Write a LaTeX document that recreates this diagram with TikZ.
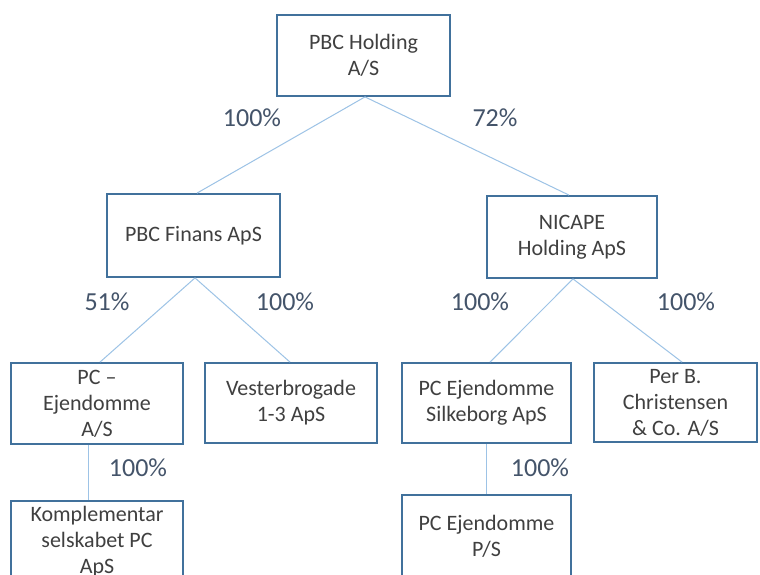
\documentclass[tikz,border=0pt]{standalone}
\usepackage{fontspec}
\setmainfont{Carlito}
\usetikzlibrary{calc}
\definecolor{boxline}{HTML}{41719C}
\definecolor{conn}{HTML}{9DC3E6}
\definecolor{boxtext}{HTML}{404040}
\definecolor{pct}{HTML}{44546A}
\begin{document}
\begin{tikzpicture}[x=1pt,y=-1pt,
  company/.style={draw=boxline, line width=1.8pt, fill=white, rectangle,
    inner sep=0pt, align=center, text=boxtext,
    font=\fontsize{22}{26}\selectfont},
  link/.style={draw=conn, line width=1pt},
  share/.style={text=pct, font=\fontsize{26}{30}\selectfont, inner sep=0pt}]
\useasboundingbox (0,0) rectangle (760,574);
\clip (0,0) rectangle (760,574);
\fill[white] (0,0) rectangle (760,574);

\node[company, minimum width=173pt, minimum height=81pt] (top) at (363.5,55.5) {PBC Holding\\A/S};
\node[company, minimum width=173pt, minimum height=83pt] (finans) at (193.5,235.5) {PBC Finans ApS};
\node[company, minimum width=170pt, minimum height=82pt] (nicape) at (572,237) {NICAPE\\Holding ApS};
\node[company, minimum width=172pt, minimum height=81pt] (pcej) at (97,403.5) {PC –\\Ejendomme\\A/S};
\node[company, minimum width=172pt, minimum height=80pt] (vester) at (291,403) {Vesterbrogade\\1-3 ApS};
\node[company, minimum width=169pt, minimum height=80pt] (silk) at (486.5,403) {PC Ejendomme\\Silkeborg ApS};
\node[company, minimum width=163pt, minimum height=79pt] (perb) at (675.5,402.5) {Per B.\\Christensen\\\& Co. A/S};
\node[company, minimum width=172pt, minimum height=82pt] (kompl) at (97,542) {Komplementar\\selskabet PC\\ApS};
\node[company, minimum width=169pt, minimum height=83pt] (pps) at (486.5,536.5) {PC Ejendomme\\P/S};

\draw[link] ([xshift=1.5pt]top.south) -- ([xshift=3.5pt]finans.north);
\draw[link] ([xshift=1.5pt]top.south) -- ([xshift=-3pt]nicape.north);
\draw[link] ([xshift=1.5pt]finans.south) -- ([xshift=3pt]pcej.north);
\draw[link] ([xshift=1.5pt]finans.south) -- ([xshift=-1pt]vester.north);
\draw[link] ([xshift=1pt]nicape.south) -- ([xshift=3.5pt]silk.north);
\draw[link] ([xshift=1pt]nicape.south) -- ([xshift=6.5pt]perb.north);
\draw[link] ([xshift=-9pt]pcej.south) -- ([xshift=-9pt]kompl.north);
\draw[link] ([xshift=0pt]silk.south) -- ([xshift=0pt]pps.north);

\node[share] (s1) at (252,118) {100\%};
\node[share] (s2) at (495,118) {72\%};
\node[share] (s3) at (107,302) {51\%};
\node[share] (s4) at (285,302) {100\%};
\node[share] (s5) at (480,302) {100\%};
\node[share] (s6) at (686,302) {100\%};
\node[share] (s7) at (138,468) {100\%};
\node[share] (s8) at (540,468) {100\%};
\end{tikzpicture}
\end{document}
